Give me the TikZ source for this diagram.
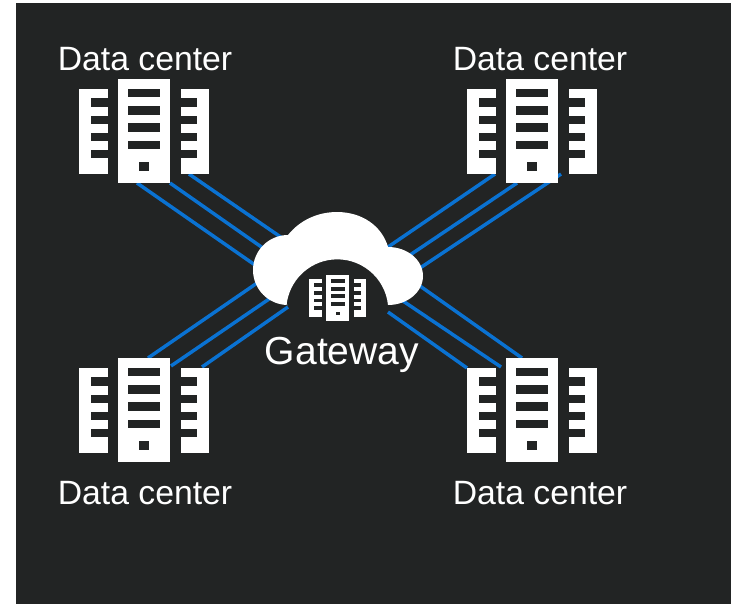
\documentclass[tikz,border=0pt]{standalone}
\usepackage{fontspec}
\setmainfont{Liberation Sans}
\definecolor{panel}{HTML}{222424}
\definecolor{linkblue}{HTML}{0A72D2}
\tikzset{
  x=.75pt, y=-.75pt,
  link/.style={draw=linkblue, line width=2.6pt},
  dclabel/.style={anchor=base, text=white, font=\fontsize{25.3}{28}\selectfont, inner sep=0pt},
  gwlabel/.style={anchor=base, text=white, font=\fontsize{29.3}{32}\selectfont, inner sep=0pt},
  server/.pic={
    \fill[white] (0,0) rectangle (52,104);
    \fill[panel] (10,10) rectangle (42,18);
    \fill[panel] (10,27) rectangle (42,35.6);
    \fill[panel] (10,44.3) rectangle (42,52.7);
    \fill[panel] (10,61.7) rectangle (42,69.7);
    \fill[panel] (21,83.3) rectangle (31,92);
    \fill[white] (-39,9.7) rectangle (-10.3,95);
    \fill[white] (62.4,9.7) rectangle (90.7,95);
    \foreach \ytop in {19.3,36.7,53.7,71} {
      \fill[panel] (-27,\ytop) rectangle (-10.3,\ytop+8.4);
      \fill[panel] (62.4,\ytop) rectangle (79,\ytop+8.4);
    }
  }
}
\begin{document}
\begin{tikzpicture}
\useasboundingbox (0,0) rectangle (731,604);
\fill[white] (0,0) rectangle (731,604);
\fill[panel] (16,3) rectangle (731,604);
% link ends
\coordinate (nwA) at (137,183); \coordinate (cwA) at (255,265);
\coordinate (nwB) at (170,183); \coordinate (cwB) at (270,253);
\coordinate (nwC) at (189,174); \coordinate (cwC) at (285,240);
\coordinate (neA) at (495,174); \coordinate (ceA) at (388,247);
\coordinate (neB) at (517,183); \coordinate (ceB) at (410,255);
\coordinate (neC) at (561,174); \coordinate (ceC) at (420,268);
\coordinate (swA) at (148,358); \coordinate (cgA) at (260,281);
\coordinate (swB) at (171,366); \coordinate (cgB) at (272,297);
\coordinate (swC) at (202,367); \coordinate (cgC) at (288,307);
\coordinate (seA) at (522,358); \coordinate (cfA) at (420,286);
\coordinate (seB) at (501,367); \coordinate (cfB) at (403,301);
\coordinate (seC) at (467,368); \coordinate (cfC) at (388,312);
\foreach \a/\b in {nwA/cwA,nwB/cwB,nwC/cwC,neA/ceA,neB/ceB,neC/ceC,swA/cgA,swB/cgB,swC/cgC,seA/cfA,seB/cfB,seC/cfC}
  \draw[link] (\a)--(\b);
% servers
\pic at (118.3,79) {server};
\pic at (506.3,79) {server};
\pic at (118.3,358) {server};
\pic at (506.3,358) {server};
% cloud
\fill[white] (288,305) arc[start angle=90,end angle=270,radius=35]
  .. controls (300,220) and (318,212) .. (337,212)
  .. controls (362,212) and (382,226) .. (388,247)
  arc[start angle=270,end angle=450,x radius=35,y radius=29]
  arc[start angle=354,end angle=186,radius=51]--cycle;
\pic[scale=.44] at (326.3,275) {server};
\node[dclabel] (nwlabel) at (145,70) {Data center};
\node[dclabel] (nelabel) at (540,70) {Data center};
\node[dclabel] (swlabel) at (145,504) {Data center};
\node[dclabel] (selabel) at (540,504) {Data center};
\node[gwlabel] (gwlabel) at (342,364) {Gateway};
\end{tikzpicture}
\end{document}
